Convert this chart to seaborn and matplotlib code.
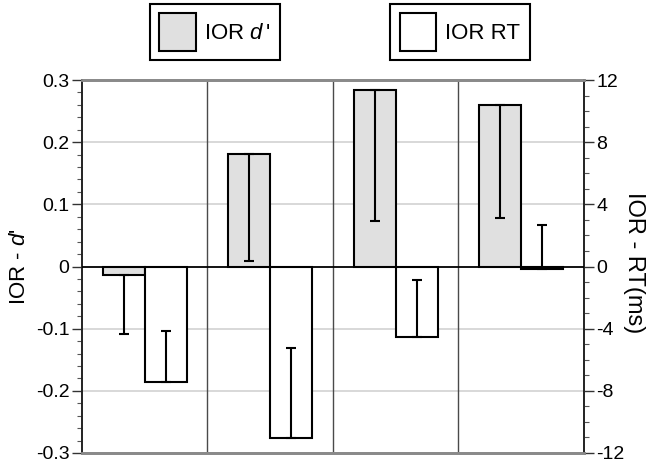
import matplotlib
matplotlib.use("Agg")
import matplotlib.pyplot as plt
from matplotlib.patches import Patch
from matplotlib.ticker import MultipleLocator
import pandas as pd
import seaborn as sns

# values
groups = ["A", "B", "C", "D"]
dprime = [-0.013, 0.181, 0.284, 0.260]
dprime_se = [0.095, 0.172, 0.211, 0.182]
rt = [-7.4, -11.05, -4.54, -0.17]
rt_se = [3.28, 5.8, 3.66, 2.86]

d_ticks = [-0.3, -0.2, -0.1, 0, 0.1, 0.2, 0.3]
d_ticklabels = ["-0.3", "-0.2", "-0.1", "0", "0.1", "0.2", "0.3"]
rt_ticks = [-12, -8, -4, 0, 4, 8, 12]
rt_ticklabels = ["-12", "-8", "-4", "0", "4", "8", "12"]

levels = ["IOR d'", "IOR RT"]
colors = {"IOR d'": "#e0e0e0", "IOR RT": "white"}

sns.set_style("white")
plt.rcParams["font.family"] = ["Liberation Sans", "DejaVu Sans"]
plt.rcParams["mathtext.fontset"] = "custom"
plt.rcParams["mathtext.rm"] = "Liberation Sans"
plt.rcParams["mathtext.it"] = "Liberation Sans:italic"
plt.rcParams["axes.unicode_minus"] = False
plt.rcParams["text.color"] = "black"
plt.rcParams["axes.labelcolor"] = "black"
plt.rcParams["ytick.labelcolor"] = "black"

df_d = pd.DataFrame({"group": groups, "measure": levels[0], "value": dprime})
df_rt = pd.DataFrame({"group": groups, "measure": levels[1], "value": rt})

fig = plt.figure(figsize=(6.47, 4.63), dpi=100)
ax1 = fig.add_axes([0.1267, 0.0216, 0.7759, 0.8056])
ax2 = ax1.twinx()

bar_kw = dict(x="group", y="value", hue="measure", hue_order=levels, order=groups,
              palette=colors, width=0.67, gap=0, dodge=True, errorbar=None,
              saturation=1, edgecolor="black", linewidth=1.5, legend=False)
sns.barplot(data=df_d, ax=ax1, zorder=3, **bar_kw)
sns.barplot(data=df_rt, ax=ax2, zorder=3, **bar_kw)

# one-sided error bars: d' downwards, RT upwards
xd = [p.get_x() + p.get_width() / 2 for p in ax1.patches]
xr = [p.get_x() + p.get_width() / 2 for p in ax2.patches]
ax1.errorbar(xd, dprime, yerr=[dprime_se, [0] * len(dprime_se)], fmt="none",
             ecolor="black", elinewidth=1.5, capsize=3.5, capthick=1.5, zorder=4)
ax2.errorbar(xr, rt, yerr=[[0] * len(rt_se), rt_se], fmt="none",
             ecolor="black", elinewidth=1.5, capsize=3.5, capthick=1.5, zorder=4)

ax1.set_xlim(-0.5, 3.5)
ax1.set_ylim(-0.3, 0.3)
ax2.set_ylim(-12, 12)

ax1.set_yticks(d_ticks)
ax1.set_yticklabels(d_ticklabels)
ax1.yaxis.set_minor_locator(MultipleLocator(0.02))
ax2.set_yticks(rt_ticks)
ax2.set_yticklabels(rt_ticklabels)
ax2.yaxis.set_minor_locator(MultipleLocator(1))
for ax in (ax1, ax2):
    ax.set_xticks([])
    ax.set_xlabel("")
    ax.tick_params(axis="y", which="major", direction="out", length=7, width=1,
                   labelsize=14, color="#333333", pad=2)
    ax.tick_params(axis="y", which="minor", direction="out", length=3.5, width=0.8,
                   color="#555555")

# grid and separators
for t in [-0.2, -0.1, 0.1, 0.2]:
    ax1.axhline(t, color="#d2d2d2", lw=1.2, zorder=0)
for s in [0.5, 1.5, 2.5]:
    ax1.axvline(s, color="#4a4a4a", lw=1.0, zorder=1)
ax2.axhline(0, color="black", lw=1.3, zorder=5)

for ax in (ax1, ax2):
    ax.spines["top"].set_color("#8a8a8a")
    ax.spines["bottom"].set_color("#8a8a8a")
    ax.spines["top"].set_linewidth(2)
    ax.spines["bottom"].set_linewidth(2)
    ax.spines["left"].set_color("#222222")
    ax.spines["right"].set_color("#222222")
    ax.spines["left"].set_linewidth(1.2)
    ax.spines["right"].set_linewidth(1.2)

ax1.set_ylabel("IOR - $d$'", fontsize=16, labelpad=4)
ax2.set_ylabel("IOR - RT(ms)", fontsize=17, rotation=270, va="center", ha="center")
ax2.yaxis.set_label_coords(1.10, 0.51)

# two separate legend boxes at the top
leg_kw = dict(loc="center", fontsize=16, frameon=True, fancybox=False,
              edgecolor="black", framealpha=1, handlelength=1.65, handleheight=2.2,
              handletextpad=0.4, borderpad=0.42, borderaxespad=0)
h1 = Patch(facecolor=colors[levels[0]], edgecolor="black", linewidth=1.5)
h2 = Patch(facecolor=colors[levels[1]], edgecolor="black", linewidth=1.5)
l1 = fig.legend([h1], ["IOR $d\\,$'"], bbox_to_anchor=(0.332, 0.931), **leg_kw)
l2 = fig.legend([h2], [levels[1]], bbox_to_anchor=(0.711, 0.931), **leg_kw)
for lg in (l1, l2):
    lg.get_frame().set_linewidth(1.5)

fig.savefig("out.png", dpi=100)
